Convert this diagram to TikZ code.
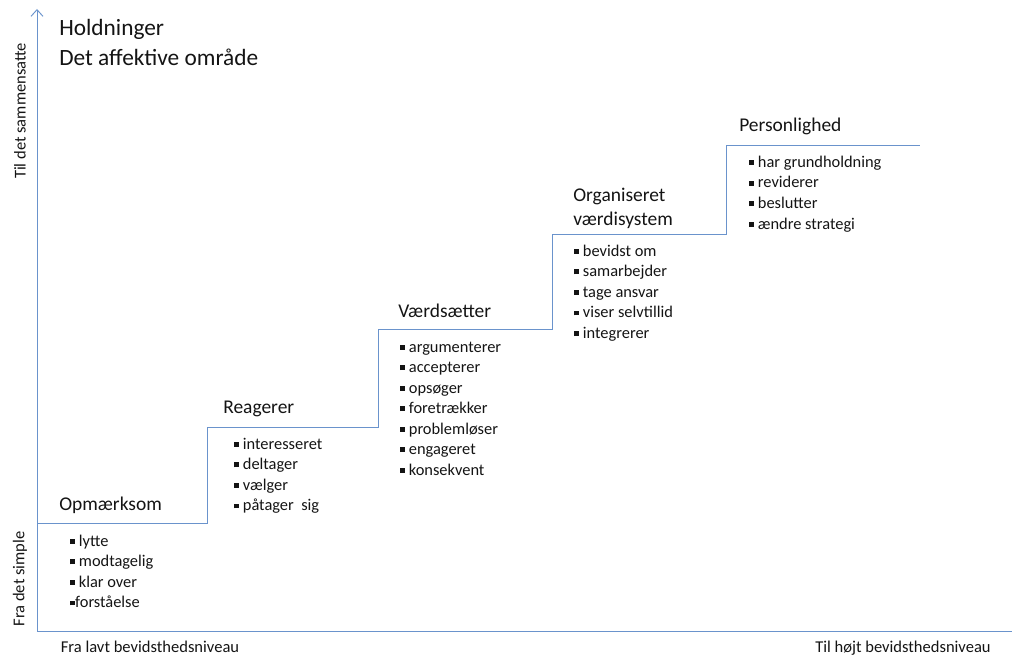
\documentclass[tikz,border=0pt]{standalone}
\usepackage{fontspec}
\setmainfont{Carlito}
\usetikzlibrary{arrows.meta}
\definecolor{axisblue}{HTML}{6A93CC}
\definecolor{txt}{HTML}{141414}
\newcommand\sqb{\rule[0.3ex]{0.3em}{0.3em}}
\tikzset{
  px/.style={x=0.75pt,y=-0.75pt},
  blueline/.style={draw=axisblue,line width=0.7pt},
  title/.style={anchor=base west,inner sep=0pt,text=txt,font=\fontsize{17.5}{20}\selectfont},
  head/.style={anchor=base west,inner sep=0pt,text=txt,font=\fontsize{14.6}{17}\selectfont},
  item/.style={anchor=base west,inner sep=0pt,text=txt,font=\fontsize{12.3}{14}\selectfont},
  axlabel/.style={inner sep=0pt,text=txt,font=\fontsize{12.4}{14}\selectfont},
}
\begin{document}
\begin{tikzpicture}[px]
\useasboundingbox (0,0) rectangle (1012,659);
% axes
\coordinate (origin) at (37,631);
\coordinate (ytop) at (37,9);
\coordinate (xend) at (1012,631);
\draw[blueline,-{Straight Barb[length=5pt,width=9pt,line width=0.7pt]}] (origin) -- (ytop);
\draw[blueline] (origin) -- (xend);
% staircase
\coordinate (s0) at (37,523);
\coordinate (s1) at (207,523);
\coordinate (s2) at (207,427);
\coordinate (s3) at (378,427);
\coordinate (s4) at (378,329);
\coordinate (s5) at (552,329);
\coordinate (s6) at (552,234);
\coordinate (s7) at (726,234);
\coordinate (s8) at (726,145);
\coordinate (s9) at (920,145);
\draw[blueline] (s0) -- (s1) -- (s2) -- (s3) -- (s4) -- (s5) -- (s6) -- (s7) -- (s8) -- (s9);
% titles
\node[title] (t1) at (59,36) {Holdninger};
\node[title] (t2) at (59,66) {Det affektive område};
% axis labels
\node[axlabel,rotate=90] (ylab1) at (20,111) {Til det sammensatte};
\node[axlabel,rotate=90] (ylab2) at (20,579) {Fra det simple};
\node[axlabel,anchor=base] (xlab1) at (150,652.5) {Fra lavt bevidsthedsniveau};
\node[axlabel,anchor=base] (xlab2) at (903,652.5) {Til højt bevidsthedsniveau};
% headings
\node[head] (h1) at (59,510) {Opmærksom};
\node[head] (h2) at (223,413.5) {Reagerer};
\node[head] (h3) at (398,317) {Værdsætter};
\node[head] (h4a) at (573,201) {Organiseret};
\node[head] (h4b) at (573,225.5) {værdisystem};
\node[head] (h5) at (739,131.3) {Personlighed};
% lists
\foreach \t [count=\i] in {\sqb\ lytte,\sqb\ modtagelig,\sqb\ klar over,\sqb forståelse}
  \node[item] (a\i) at (70,{546+20.6*(\i-1)}) {\t};
\foreach \t [count=\i] in {interesseret,deltager,vælger,påtager\ \ sig}
  \node[item] (b\i) at (234,{449+20.6*(\i-1)}) {\sqb\ \t};
\foreach \t [count=\i] in {argumenterer,accepterer,opsøger,foretrækker,problemløser,engageret,konsekvent}
  \node[item] (c\i) at (400,{352+20.5*(\i-1)}) {\sqb\ \t};
\foreach \t [count=\i] in {bevidst om,samarbejder,tage ansvar,viser selvtillid,integrerer}
  \node[item] (d\i) at (574,{256+20.6*(\i-1)}) {\sqb\ \t};
\foreach \t [count=\i] in {har grundholdning,reviderer,beslutter,ændre strategi}
  \node[item] (e\i) at (749,{167.3+20.6*(\i-1)}) {\sqb\ \t};
\end{tikzpicture}
\end{document}
